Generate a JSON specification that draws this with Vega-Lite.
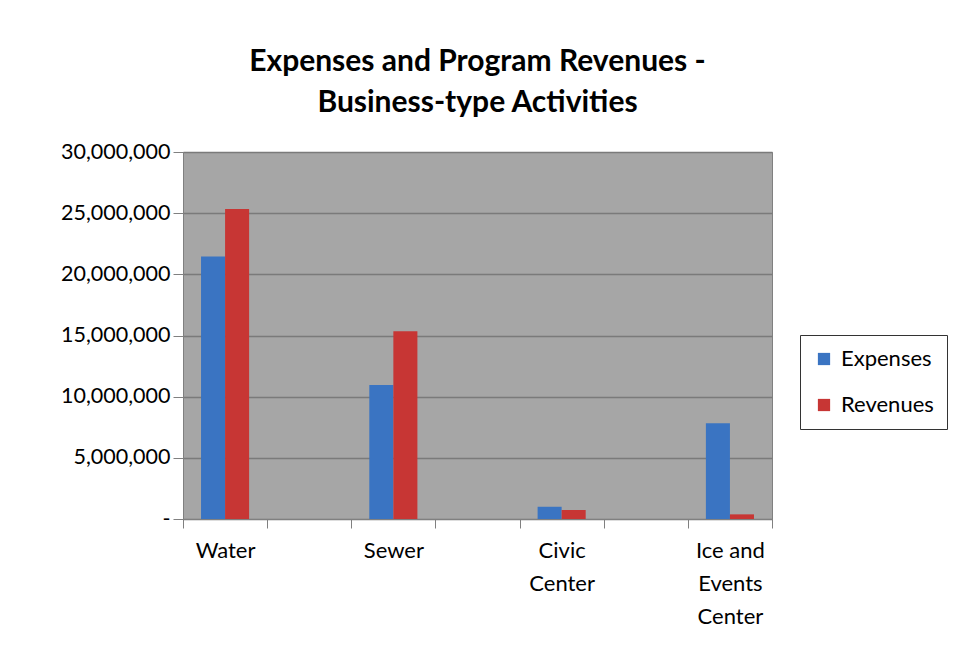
{
  "$schema": "https://vega.github.io/schema/vega-lite/v6.json",
  "autosize": "none",
  "width": 589,
  "height": 367,
  "padding": {"left": 183, "top": 152, "right": 190, "bottom": 131},
  "background": "white",
  "title": {
    "text": ["Expenses and Program  Revenues -", "Business-type Activities"],
    "font": "Lato",
    "fontSize": 30,
    "fontWeight": "bold",
    "color": "black",
    "lineHeight": 41,
    "anchor": "middle",
    "offset": 23
  },
  "data": {
    "values": [
      {"activity": "Water", "series": "Expenses", "amount": 21450000},
      {"activity": "Water", "series": "Revenues", "amount": 25350000},
      {"activity": "Sewer", "series": "Expenses", "amount": 10950000},
      {"activity": "Sewer", "series": "Revenues", "amount": 15350000},
      {"activity": "Civic Center", "series": "Expenses", "amount": 1000000},
      {"activity": "Civic Center", "series": "Revenues", "amount": 740000},
      {"activity": "Ice and Events Center", "series": "Expenses", "amount": 7820000},
      {"activity": "Ice and Events Center", "series": "Revenues", "amount": 380000}
    ]
  },
  "mark": {"type": "bar"},
  "encoding": {
    "x": {
      "field": "activity",
      "type": "nominal",
      "title": null,
      "scale": {
        "domain": ["Water", "gap1", "Sewer", "gap2", "Civic Center", "gap3", "Ice and Events Center"],
        "paddingInner": 0,
        "paddingOuter": 0
      },
      "axis": {
        "labelAngle": 0,
        "labelFont": "Lato",
        "labelFontSize": 22,
        "labelColor": "black",
        "labelLineHeight": 33,
        "labelPadding": 12,
        "labelBaseline": "top",
        "tickBand": "extent",
        "tickSize": 9,
        "tickColor": "#808080",
        "domainColor": "#808080",
        "labelLimit": 200,
        "labelExpr": "datum.label == 'Civic Center' ? ['Civic', 'Center'] : datum.label == 'Ice and Events Center' ? ['Ice and', 'Events', 'Center'] : indexof(datum.label, 'gap') == 0 ? '' : datum.label"
      }
    },
    "xOffset": {
      "field": "series",
      "type": "nominal",
      "scale": {"paddingInner": 0, "paddingOuter": 0.75}
    },
    "y": {
      "field": "amount",
      "type": "quantitative",
      "title": null,
      "scale": {"domain": [0, 30000000], "nice": false},
      "axis": {
        "values": [0, 5000000, 10000000, 15000000, 20000000, 25000000, 30000000],
        "labelExpr": "datum.value == 0 ? '-' : format(datum.value, ',')",
        "labelFont": "Lato",
        "labelFontSize": 21.5,
        "labelColor": "black",
        "labelPadding": 3,
        "tickSize": 10,
        "tickColor": "#808080",
        "domainColor": "#808080",
        "gridColor": "#7a7a7a",
        "gridWidth": 1.5,
        "grid": true
      }
    },
    "color": {
      "field": "series",
      "type": "nominal",
      "title": null,
      "scale": {"domain": ["Expenses", "Revenues"], "range": ["#3a74c2", "#c73634"]},
      "legend": {
        "orient": "none",
        "legendX": 617,
        "legendY": 183,
        "symbolType": "square",
        "symbolSize": 150,
        "symbolStrokeWidth": 0,
        "labelFont": "Lato",
        "labelFontSize": 22,
        "labelColor": "black",
        "rowPadding": 24,
        "padding": 13,
        "strokeColor": "#333333",
        "fillColor": "white",
        "labelOffset": 6
      }
    }
  },
  "config": {
    "view": {"fill": "#a6a6a6", "stroke": "#808080"},
    "axis": {"gridOpacity": 1}
  }
}
